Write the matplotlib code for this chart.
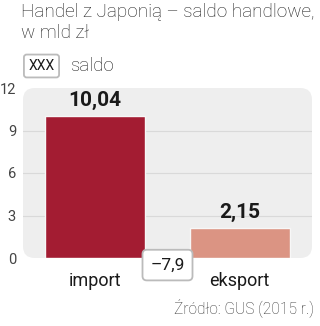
import matplotlib
matplotlib.use("Agg")
import matplotlib.pyplot as plt
from matplotlib.patches import FancyBboxPatch

categories = ["import", "eksport"]
values = [10.04, 2.15]
value_labels = ["10,04", "2,15"]
saldo = -7.9
saldo_label = "–7,9"
yticks = [0, 3, 6, 9, 12]
colors = ["#A31C32", "#DB9483"]

title = "Handel z Japonią – saldo handlowe,\nw mld zł"
source = "Źródło: GUS (2015 r.)"

FONT = ["Roboto", "DejaVu Sans"]

fig = plt.figure(figsize=(3.2, 3.26), dpi=100)
ax = fig.add_axes([23/320, 1-258/326, 289/320, 170/326])
ax.set_xlim(-0.5, 1.5)
ax.set_ylim(0, 12)
ax.set_facecolor("none")

bg = FancyBboxPatch((0, 0), 1, 1, boxstyle="round,pad=0,rounding_size=0.04",
                    transform=ax.transAxes, facecolor="#EEEEEE", edgecolor="none",
                    zorder=0, clip_on=False, mutation_aspect=289/170)
ax.add_patch(bg)

for y in yticks[1:-1]:
    ax.axhline(y, color="#D9D9D9", lw=0.8, zorder=1)

x = list(range(len(categories)))
ax.bar(x, values, width=0.69, color=colors, edgecolor="#F7F7F7", linewidth=1.0, zorder=2)

for xi, v, lab in zip(x, values, value_labels):
    ax.text(xi, v + 0.4, lab, ha="center", va="bottom", fontsize=15,
            fontweight="bold", family=FONT, color="#1a1a1a", zorder=3)

ax.text(0.5, -0.5, saldo_label, ha="center", va="center", fontsize=12.5,
        family=FONT, color="#1a1a1a", zorder=5, clip_on=False,
        bbox=dict(boxstyle="round,pad=0.45,rounding_size=0.25", facecolor="white",
                  edgecolor="#BBBBBB", linewidth=1.3))

ax.set_xticks(x)
ax.set_xticklabels(categories, fontsize=13, family=FONT, color="#1a1a1a")
ax.tick_params(axis="x", length=0, pad=10)
ax.set_yticks(yticks)
ax.set_yticklabels([str(t) for t in yticks], fontsize=10.5, family=FONT, color="#444444")
ax.tick_params(axis="y", length=0, pad=5)
for s in ax.spines.values():
    s.set_visible(False)

fig.text(21/320, 1-3/326, title, ha="left", va="top", fontsize=13.6, family=FONT,
         fontweight="light", color="#1a1a1a", linespacing=1.2)

fig.text(41.5/320, 1-66/326, "XXX", ha="center", va="center", fontsize=10, family=FONT,
         color="#1a1a1a",
         bbox=dict(boxstyle="round,pad=0.32,rounding_size=0.2", facecolor="white",
                   edgecolor="#BBBBBB", linewidth=1.3))
fig.text(70/320, 1-66/326, "saldo", ha="left", va="center", fontsize=13.5, family=FONT,
         fontweight="light", color="#1a1a1a")

fig.text(314/320, 1-308/326, source, ha="right", va="center", fontsize=11.2, family=FONT,
         fontweight="light", color="#333333")

fig.savefig("out.png", dpi=100)
